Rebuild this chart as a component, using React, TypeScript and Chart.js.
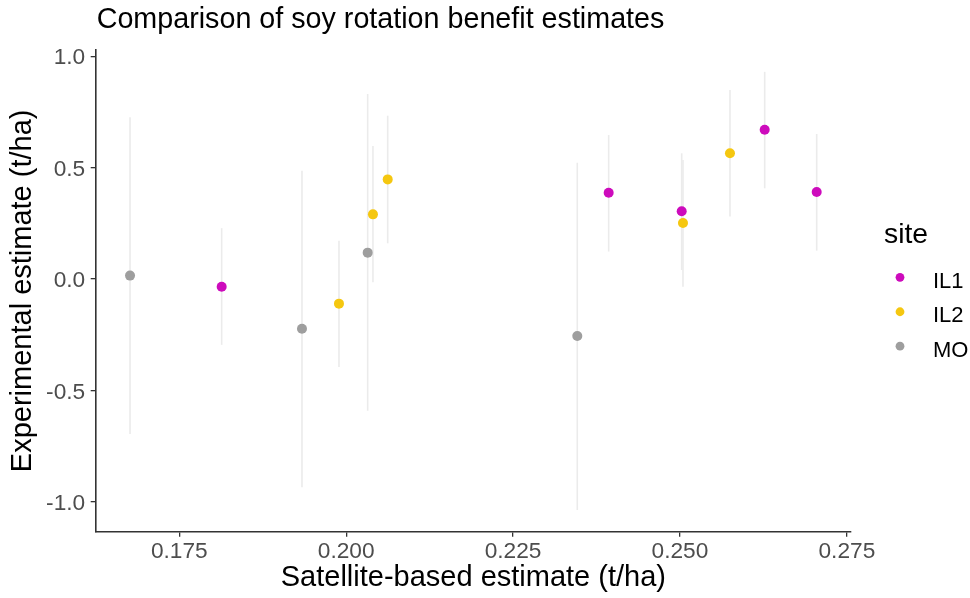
import React, { useEffect, useRef } from "react";
import { Chart, registerables } from "chart.js";

Chart.register(...registerables);

// ---- data ----
const sites = ["IL1", "IL2", "MO"];
const siteColors = ["#CD0BBC", "#F5C710", "#9E9E9E"];

const il1X = [0.18135, 0.23932, 0.25026, 0.26269, 0.27048];
const il1Y = [-0.035, 0.387, 0.304, 0.67, 0.39];
const il1Lo = [-0.296, 0.123, 0.04, 0.407, 0.127];
const il1Hi = [0.228, 0.646, 0.564, 0.93, 0.651];

const il2X = [0.19892, 0.20401, 0.20622, 0.25045, 0.25749];
const il2Y = [-0.111, 0.29, 0.447, 0.251, 0.564];
const il2Lo = [-0.396, -0.015, 0.16, -0.035, 0.28];
const il2Hi = [0.172, 0.597, 0.733, 0.534, 0.848];

const moX = [0.16762, 0.19338, 0.20322, 0.23462];
const moY = [0.015, -0.224, 0.118, -0.256];
const moLo = [-0.696, -0.935, -0.592, -1.037];
const moHi = [0.726, 0.486, 0.83, 0.522];

const xRange = [0.16248, 0.27562];
const yRange = [-1.135, 1.028];
const xStep = 0.025;
const yStep = 0.5;

const titleText = "Comparison of soy rotation benefit estimates";
const xTitle = "Satellite-based estimate (t/ha)";
const yTitle = "Experimental estimate (t/ha)";
const legendTitle = "site";

const FONT = "'Liberation Sans', Arial, Helvetica, sans-serif";

function build(xs: number[], ys: number[], lo: number[], hi: number[]) {
  return xs.map((x, i) => ({ x, y: ys[i], lo: lo[i], hi: hi[i] }));
}

const errorBarPlugin = {
  id: "errorBars",
  beforeDatasetsDraw(chart: any) {
    const { ctx, scales } = chart;
    const xs = scales.x;
    const ys = scales.y;
    ctx.save();
    ctx.strokeStyle = "#EBEBEB";
    ctx.lineWidth = 1.6;
    chart.data.datasets.forEach((ds: any) => {
      ds.data.forEach((p: any) => {
        const px = xs.getPixelForValue(p.x);
        ctx.beginPath();
        ctx.moveTo(px, ys.getPixelForValue(p.lo));
        ctx.lineTo(px, ys.getPixelForValue(p.hi));
        ctx.stroke();
      });
    });
    ctx.restore();
  },
};

const decorPlugin = {
  id: "decor",
  afterDraw(chart: any) {
    const { ctx, chartArea } = chart;
    ctx.save();
    // title
    ctx.fillStyle = "#000000";
    ctx.font = `28.7px ${FONT}`;
    ctx.textAlign = "left";
    ctx.textBaseline = "alphabetic";
    ctx.fillText(titleText, chartArea.left + 1, 28);
    // legend
    const cy = (chartArea.top + chartArea.bottom) / 2;
    const lx = chartArea.right;
    ctx.font = `28.3px ${FONT}`;
    ctx.fillText(legendTitle, lx + 33, cy - 47.5);
    ctx.font = `22px ${FONT}`;
    chart.data.datasets.forEach((ds: any, i: number) => {
      const dy = cy - 13.5 + i * 34.4;
      ctx.beginPath();
      ctx.fillStyle = ds.backgroundColor;
      ctx.arc(lx + 49, dy, 4.4, 0, Math.PI * 2);
      ctx.fill();
      ctx.fillStyle = "#000000";
      ctx.fillText(ds.label, lx + 82, dy + 10.5);
    });
    ctx.restore();
  },
};

export default function App() {
  const ref = useRef<HTMLCanvasElement | null>(null);

  useEffect(() => {
    document.body.style.margin = "0";
    if (!ref.current) return;
    const datasets = [
      build(il1X, il1Y, il1Lo, il1Hi),
      build(il2X, il2Y, il2Lo, il2Hi),
      build(moX, moY, moLo, moHi),
    ].map((data, i) => ({
      label: sites[i],
      data,
      backgroundColor: siteColors[i],
      borderColor: siteColors[i],
      borderWidth: 0,
      pointRadius: 5,
      pointHoverRadius: 5,
    }));

    const chart = new Chart(ref.current, {
      type: "scatter",
      data: { datasets },
      plugins: [errorBarPlugin, decorPlugin],
      options: {
        animation: false,
        responsive: true,
        maintainAspectRatio: false,
        layout: { padding: { left: 0, top: 50, right: 119, bottom: 0 } },
        plugins: {
          legend: { display: false },
          title: { display: false },
          tooltip: { enabled: false },
        },
        scales: {
          x: {
            type: "linear",
            min: xRange[0],
            max: xRange[1],
            ticks: {
              stepSize: xStep,
              includeBounds: false,
              autoSkip: false,
              maxRotation: 0,
              color: "#4D4D4D",
              font: { family: FONT, size: 22.7 },
              padding: 1,
              callback: (v: any) => Number(v).toFixed(3),
            },
            grid: {
              drawOnChartArea: false,
              drawTicks: true,
              tickLength: 5,
              color: "#333333",
              lineWidth: 1.3,
            },
            border: { display: true, color: "#333333", width: 1.6 },
            title: {
              display: true,
              text: xTitle,
              color: "#000000",
              font: { family: FONT, size: 29 },
              padding: { top: 0, bottom: 2.3 },
            },
            afterFit: (s: any) => {
              s.height = 66.3;
            },
          },
          y: {
            type: "linear",
            min: yRange[0],
            max: yRange[1],
            ticks: {
              stepSize: yStep,
              includeBounds: false,
              autoSkip: false,
              color: "#4D4D4D",
              font: { family: FONT, size: 22.7 },
              padding: 5.5,
              labelOffset: 2,
              callback: (v: any) => Number(v).toFixed(1),
            },
            grid: {
              drawOnChartArea: false,
              drawTicks: true,
              tickLength: 5,
              color: "#333333",
              lineWidth: 1.3,
            },
            border: { display: true, color: "#333333", width: 1.6 },
            title: {
              display: true,
              text: yTitle,
              color: "#000000",
              font: { family: FONT, size: 29 },
              padding: { top: 5.6, bottom: 0 },
            },
            afterFit: (s: any) => {
              s.width = 95.7;
            },
          },
        },
      },
    } as any);
    return () => chart.destroy();
  }, []);

  return (
    <div style={{ position: "absolute", left: 0, top: 0, width: 970, height: 598 }}>
      <canvas ref={ref} />
    </div>
  );
}
